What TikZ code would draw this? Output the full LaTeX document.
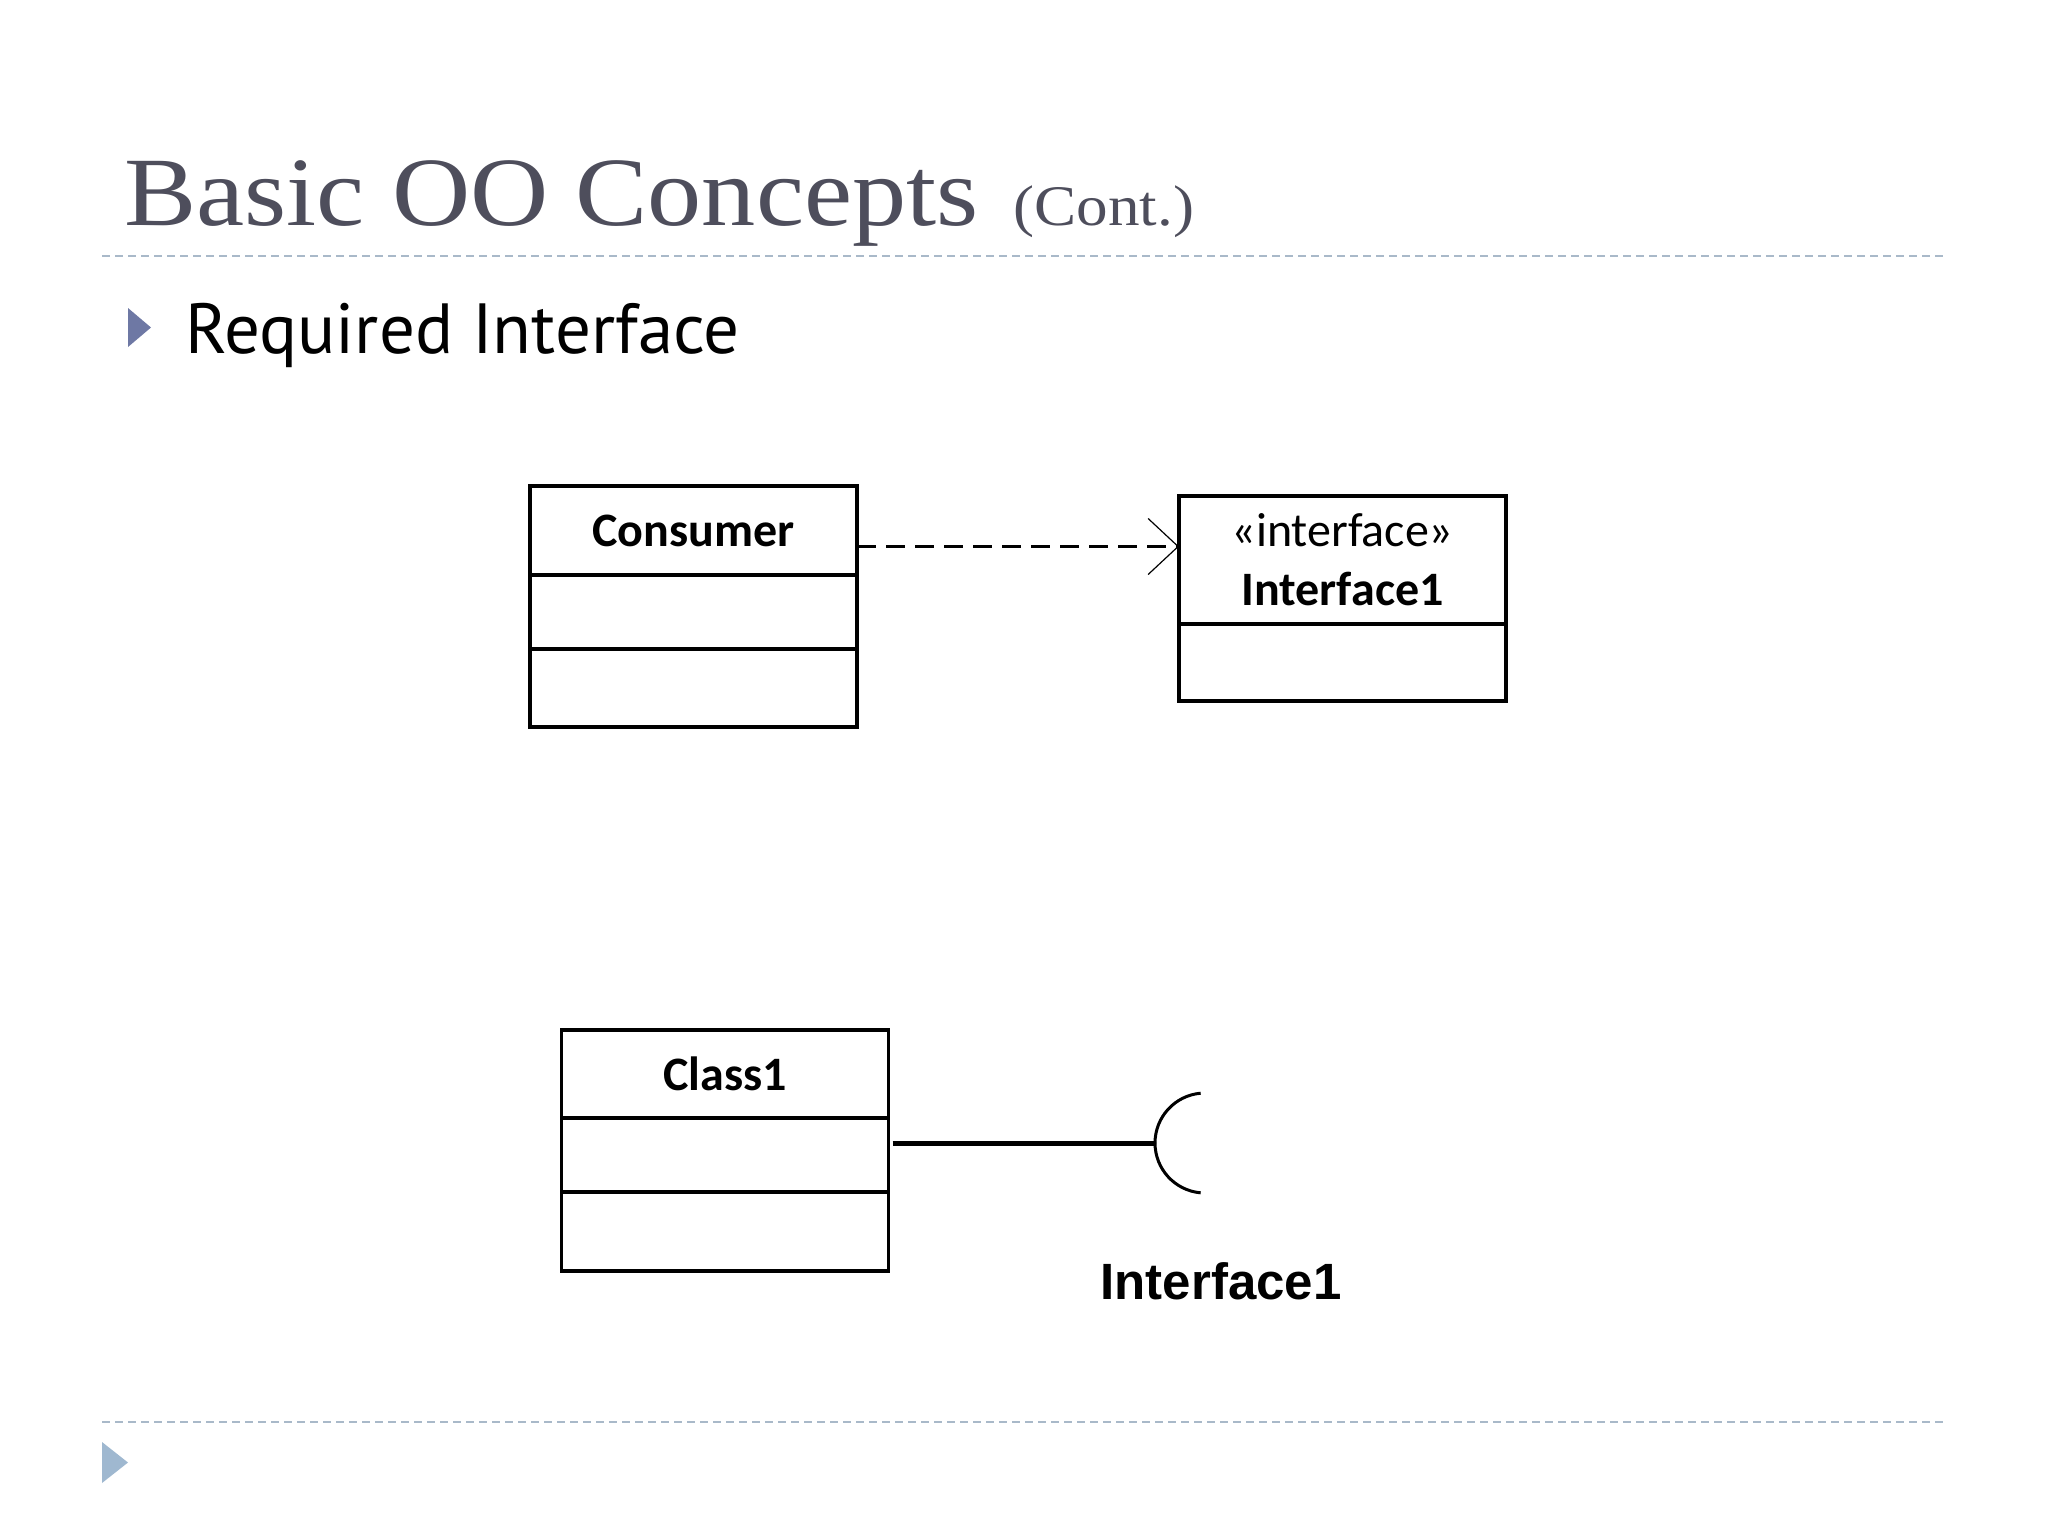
\documentclass[tikz,border=0pt]{standalone}
\usepackage{fontspec}
\setmainfont{Liberation Serif}
\newfontfamily\uifont{Carlito}
\newfontfamily\bulletfont{PT Sans}
\newfontfamily\labelfont{Liberation Sans}
\usetikzlibrary{positioning,arrows.meta}
\definecolor{titlegray}{HTML}{4E4E5C}
\definecolor{rulegray}{HTML}{A9B9C9}
\definecolor{bulletblue}{HTML}{6E78A4}
\definecolor{cornerblue}{HTML}{9FB8D0}

\begin{document}
\begin{tikzpicture}[x=0.5pt, y=-0.5pt,
    box/.style = {draw, line width=1.8pt, minimum width=163.5pt, inner sep=0pt, outer sep=0pt,
                  font=\uifont\fontsize{24}{29.5}\selectfont, align=center},
    sepline/.style = {rulegray, line width=1pt, dash pattern=on 4pt off 2.5pt},
    dep/.style = {line width=1.2pt, dash pattern=on 9.5pt off 5pt,
                  -{Straight Barb[length=15pt, width=28pt, line width=0.6pt]}},
    reqline/.style = {line width=2.5pt},
    sockline/.style = {line width=1.5pt}]
\useasboundingbox (0,0) rectangle (2048,1536);

% slide frame
\node[anchor=base west, inner sep=0pt, text=titlegray, font=\fontsize{49}{55}\selectfont]
    (title) at (124,225) {\scalebox{1.105}[1]{Basic OO Concepts}};
\node[anchor=base west, inner sep=0pt, text=titlegray, font=\fontsize{28.7}{32}\selectfont]
    (cont) at (1013,225) {\scalebox{1.1}[1]{(Cont.)}};
\draw[sepline] (102,256) -- (1946,256);
\draw[sepline] (102,1422) -- (1946,1422);
\fill[bulletblue] (128,308) -- (151,327.5) -- (128,347) -- cycle;
\fill[cornerblue] (102,1442) -- (128,1462.5) -- (102,1483) -- cycle;
\node[anchor=base west, inner sep=0pt, font=\bulletfont\fontsize{35.5}{40}\selectfont]
    (bullet) at (185,353) {Required Interface};

% consumer depends on interface
\node[box, minimum height=44.5pt] (cons) at (693.5,530.5) {\bfseries Consumer};
\node[box, minimum height=37pt, below=0pt of cons] (consattr) {};
\node[box, minimum height=39pt, below=0pt of consattr] (consops) {};

\node[box, minimum height=64pt] (iface) at (1342.5,560) {«interface»\\\bfseries Interface1};
\node[box, minimum height=38.5pt, below=0pt of iface] (ifaceattr) {};

\draw[dep] ([yshift=-8pt]cons.east) -- ([yshift=-8pt]cons.east -| iface.west);

% required interface as socket
\node[box, minimum height=44pt] (class1) at (725,1074) {\bfseries Class1};
\node[box, minimum height=37pt, below=0pt of class1] (c1attr) {};
\node[box, minimum height=39.5pt, below=0pt of c1attr] (c1ops) {};

\coordinate (socket) at (1155,1143);
\draw[reqline] ([xshift=2pt]c1attr.east |- socket) -- (socket);
\draw[sockline] (socket) arc[start angle=180, end angle=95, radius=25pt];
\draw[sockline] (socket) arc[start angle=180, end angle=265, radius=25pt];
\node[anchor=base, inner sep=0pt, font=\labelfont\bfseries\fontsize{25.5}{30}\selectfont]
    (socklabel) at (1221,1299) {Interface1};
\end{tikzpicture}
\end{document}
